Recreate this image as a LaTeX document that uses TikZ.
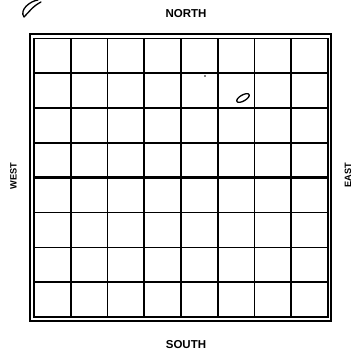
\documentclass[tikz,border=0pt]{standalone}
\usepackage{fontspec}
\setmainfont{Liberation Sans}
\begin{document}
\begin{tikzpicture}[x=1pt,y=-1pt,
  frame/.style={line width=1.4pt},
  gridline/.style={line width=1.7pt},
  axisline/.style={line width=2.8pt},
  dirlabel/.style={font=\bfseries\fontsize{11.5}{12}\selectfont, inner sep=0pt},
  sidelabel/.style={font=\bfseries\fontsize{9.2}{10}\selectfont, inner sep=0pt, rotate=90},
  pen/.style={line width=1.3pt, line cap=round}]
\useasboundingbox (0,0) rectangle (354,351);
% frames
\draw[frame] (30,34) rectangle (331,321);
\draw[frame] (34,38.5) rectangle (328,317);
% grid lines
\foreach \i in {1,2,3,5,6,7} {
  \draw[gridline] ({34+\i*36.75},38.5) -- ({34+\i*36.75},317);
  \draw[gridline] (34,{38.5+\i*34.8125}) -- (328,{38.5+\i*34.8125});
}
\draw[axisline] (181,38.5) -- (181,317);
\draw[axisline] (34,177.75) -- (328,177.75);
% labels
\node[dirlabel] (north) at (186,14) {NORTH};
\node[dirlabel] (south) at (186,345) {SOUTH};
\node[sidelabel] (west) at (13.5,176) {WEST};
\node[sidelabel] (east) at (348,175) {EAST};
% handwritten marks
\draw[pen, rotate around={30:(243,98)}] (243,98) ellipse (7pt and 3pt);
\draw[pen] (24,17) .. controls (19,10) and (30,1) .. (38,0);
\draw[pen] (24,17) .. controls (29,12) and (33,6) .. (41,2);
\fill (205,76) circle (0.8pt);
\end{tikzpicture}
\end{document}
